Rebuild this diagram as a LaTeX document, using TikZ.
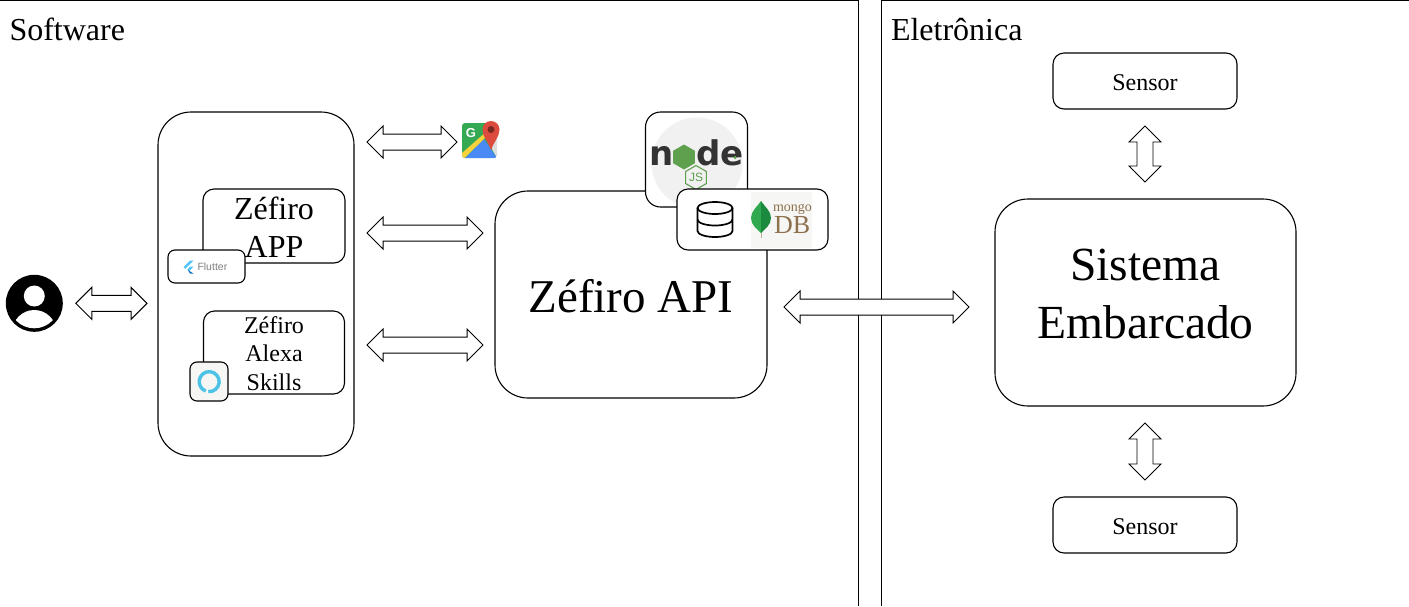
\documentclass[tikz,border=0pt]{standalone}
\usepackage{fontspec}
\setmainfont{Liberation Serif}
\newfontfamily\logofont{Liberation Sans}
\newfontfamily\nodefont{DejaVu Sans}
\usetikzlibrary{calc,shapes.geometric}
\definecolor{nodegray}{HTML}{F1F1F1}
\definecolor{nodedark}{HTML}{333333}
\definecolor{nodegreen}{HTML}{5FA04E}
\definecolor{mongobrown}{HTML}{8E714E}
\definecolor{mongobg}{HTML}{F6F6F4}
\definecolor{leafgreen}{HTML}{2FA84F}
\definecolor{leafdark}{HTML}{1B8A3E}
\definecolor{alexablue}{HTML}{4CC3E6}
\definecolor{flutterlight}{HTML}{54C5F8}
\definecolor{flutterdark}{HTML}{0B6FB8}
\definecolor{mapsgreen}{HTML}{35A853}
\definecolor{mapsblue}{HTML}{4A8AF4}
\definecolor{mapsyellow}{HTML}{F6D23C}
\definecolor{mapsgray}{HTML}{DEDEDE}
\definecolor{mapsred}{HTML}{DD4B3E}
\begin{document}
\begin{tikzpicture}[x=1pt,y=1pt]
\tikzstyle{every node}+=[inner sep=0pt,outer sep=0pt]
\tikzstyle{box}=[draw=black,fill=white,line width=1.1pt,align=center]
\tikzstyle{bigbox}=[box,rounded corners=33pt]
\tikzstyle{smallbox}=[box,rounded corners=11pt]
\tikzstyle{logobox}=[box,rounded corners=7pt]
\tikzstyle{panelline}=[black,line width=1.1pt]
\tikzstyle{nodeletter}=[anchor=base,text=nodedark,font=\nodefont\bfseries\fontsize{34}{34}\selectfont]
\tikzstyle{blockarrow}=[draw=black,fill=white,line width=1pt,to path={
 -- ($(\tikztostart)!16pt!(\tikztotarget)!16pt!90:(\tikztotarget)$)
 -- ($(\tikztostart)!16pt!(\tikztotarget)!8pt!90:(\tikztotarget)$)
 -- ($(\tikztotarget)!16pt!(\tikztostart)!8pt!-90:(\tikztostart)$)
 -- ($(\tikztotarget)!16pt!(\tikztostart)!16pt!-90:(\tikztostart)$)
 -- (\tikztotarget)
 -- ($(\tikztotarget)!16pt!(\tikztostart)!16pt!90:(\tikztostart)$)
 -- ($(\tikztotarget)!16pt!(\tikztostart)!8pt!90:(\tikztostart)$)
 -- ($(\tikztostart)!16pt!(\tikztotarget)!8pt!-90:(\tikztotarget)$)
 -- ($(\tikztostart)!16pt!(\tikztotarget)!16pt!-90:(\tikztotarget)$)
 -- cycle}]
\useasboundingbox (0,0) rectangle (1409,-606);
\draw [panelline] (0,-0.5) -- (858.5,-0.5) -- (858.5,-606);
\draw [panelline] (881.5,-606) -- (881.5,-0.5) -- (1409,-0.5);
\node [anchor=base west,font=\fontsize{32}{38}\selectfont] (softwarelabel) at (9.5,-40) {Software};
\node [anchor=base west,font=\fontsize{32}{38}\selectfont] (eletronicalabel) at (891,-40) {Eletrônica};
\node [circle,fill=black,minimum size=57pt] (user) at (34.3,-303.3) {};
\node [circle,fill=white,minimum size=21pt] (userhead) at (34.3,-296) {};
\begin{scope}
\clip (user.center) circle (25);
\fill [white] (34.3,-332) circle (22);
\end{scope}
\node [bigbox,minimum width=196pt,minimum height=344pt] (group) at (256,-284) {};
\node [smallbox,minimum width=142pt,minimum height=74pt,text height=62pt,font=\fontsize{32}{38}\selectfont] (appbox) at (274,-226) {Zéfiro\\APP};
\node [logobox,minimum width=77pt,minimum height=33pt] (flutterbox) at (206.5,-266.5) {};
\fill [flutterlight] (183.5,-267) -- (190,-260.5) -- (193.5,-260.5) -- (185.3,-268.8) -- cycle;
\fill [flutterlight] (187.5,-269.5) -- (190,-266.5) -- (193.5,-266.5) -- (189.5,-271) -- cycle;
\fill [flutterdark] (187.5,-269.5) -- (189.5,-271) -- (193.5,-273.5) -- (190,-273.5) -- cycle;
\node [anchor=west,text=gray,font=\logofont\fontsize{10.5}{12}\selectfont] (fluttertext) at (197.5,-267) {Flutter};
\node [smallbox,minimum width=141pt,minimum height=83pt,text height=75.4pt,font=\fontsize{24}{28.5}\selectfont] (alexabox) at (274,-352.5) {Zéfiro\\Alexa\\Skills};
\node [logobox,fill=mongobg,minimum width=38pt,minimum height=39pt] (alexaicon) at (209,-381.5) {};
\draw [alexablue,line width=3.4pt] (208.3,-391.6) arc (-95:250:10);
\node [bigbox,minimum width=272pt,minimum height=207pt,text height=37pt,font=\fontsize{47}{56}\selectfont] (api) at (631,-294.5) {Zéfiro API};
\node [box,rounded corners=15pt,minimum width=102pt,minimum height=95pt] (nodebox) at (696.5,-159.5) {};
\node [circle,fill=nodegray,minimum size=91pt] (nodedisc) at (697,-163) {};
\node [nodeletter] (noden) at (662,-165.5) {n};
\node [regular polygon,regular polygon sides=6,regular polygon rotate=30,fill=nodegreen,minimum size=25pt] (nodehex) at (684,-157) {};
\node [nodeletter] (noded) at (709,-165.5) {d};
\node [nodeletter] (nodee) at (732.5,-165.5) {e};
\node [circle,fill=nodegreen,minimum size=3.5pt] (nodedot) at (735,-157.5) {};
\node [regular polygon,regular polygon sides=6,regular polygon rotate=30,draw=nodegreen,line width=1.1pt,text=nodegreen,font=\logofont\fontsize{12}{12}\selectfont,minimum size=24pt] (nodejs) at (696,-177.5) {JS};
\node [smallbox,minimum width=151pt,minimum height=61pt] (mongobox) at (752.5,-219.5) {};
\draw [black,line width=1.7pt] (697.5,-208) -- (697.5,-231) arc (180:360:17.5 and 6) -- (732.5,-208);
\draw [black,line width=1.7pt] (715,-208) ellipse (17.5 and 6);
\draw [black,line width=1.7pt] (697.5,-219.5) arc (180:360:17.5 and 6);
\node [fill=mongobg,minimum width=61pt,minimum height=56pt] (mongoimage) at (781.5,-220) {};
\fill [leafgreen] (761,-201) .. controls (757,-207) and (751,-211) .. (751,-218) .. controls (751,-225) and (757,-229) .. (761,-233) -- cycle;
\fill [leafdark] (761,-201) .. controls (765,-207) and (771,-211) .. (771,-218) .. controls (771,-225) and (765,-229) .. (761,-233) -- cycle;
\draw [mongobrown!60,line width=0.8pt] (761,-233) -- (761,-238);
\node [anchor=base west,text=mongobrown,font=\fontsize{14}{14}\selectfont] (mongotext) at (773,-211) {mongo};
\node [anchor=base west,text=mongobrown,font=\fontsize{26}{26}\selectfont] (dbtext) at (774,-233) {DB};
\node [bigbox,minimum width=301pt,minimum height=207pt,text depth=17pt,font=\fontsize{47.5}{58}\selectfont] (sistema) at (1145.5,-302.5) {Sistema\\Embarcado};
\node [smallbox,minimum width=184pt,minimum height=56pt,text height=20pt,font=\fontsize{24}{28}\selectfont] (sensortop) at (1145,-81) {Sensor};
\node [smallbox,minimum width=184pt,minimum height=56pt,text height=20pt,font=\fontsize{24}{28}\selectfont] (sensorbottom) at (1145,-525) {Sensor};
\begin{scope}
\clip [rounded corners=3pt] (462,-123) rectangle (497,-158);
\fill [mapsgreen] (462,-123) rectangle (497,-158);
\fill [mapsgray] (497,-123) -- (484,-135) -- (497,-158) -- cycle;
\fill [mapsblue] (484,-139) -- (497,-158) -- (465,-158) -- cycle;
\fill [mapsyellow] (462,-153) -- (486,-132) -- (488,-135) -- (464.5,-158) -- (462,-158) -- cycle;
\end{scope}
\node [minimum width=35pt,minimum height=35pt] (maps) at (479.5,-140.5) {};
\node [text=white,font=\logofont\bfseries\fontsize{13}{13}\selectfont] (mapsg) at (471,-133) {G};
\fill [mapsred] (491,-150) .. controls (489,-143) and (482.5,-137) .. (482.5,-129.5) arc (180:0:8.5) .. controls (499.5,-137) and (493,-143) .. (491,-150) -- cycle;
\fill [mapsred!55!black] (491,-129.5) circle (3.5);
\draw [blockarrow] ([xshift=13pt]user.east) to ([xshift=-11pt]user.east -| group.west);
\draw [blockarrow] ([shift={(13,-1.5)}]maps.west -| group.east) to ([shift={(-5,-1.5)}]maps.west);
\draw [blockarrow] ([shift={(13,-7)}]appbox.east -| group.east) to ([shift={(-12,-7)}]appbox.east -| api.west);
\draw [blockarrow] ([shift={(13,7.5)}]alexabox.east -| group.east) to ([shift={(-12,7.5)}]alexabox.east -| api.west);
\draw [blockarrow] ([shift={(17,-12.5)}]api.east) to ([shift={(-26,-4.5)}]sistema.west);
\draw [blockarrow,line width=0.8pt] ([yshift=-17pt]sensortop.south) to ([yshift=17pt]sensortop.south |- sistema.north);
\draw [blockarrow,line width=0.8pt] ([yshift=-17pt]sensorbottom.north |- sistema.south) to ([yshift=17pt]sensorbottom.north);
\end{tikzpicture}
\end{document}
